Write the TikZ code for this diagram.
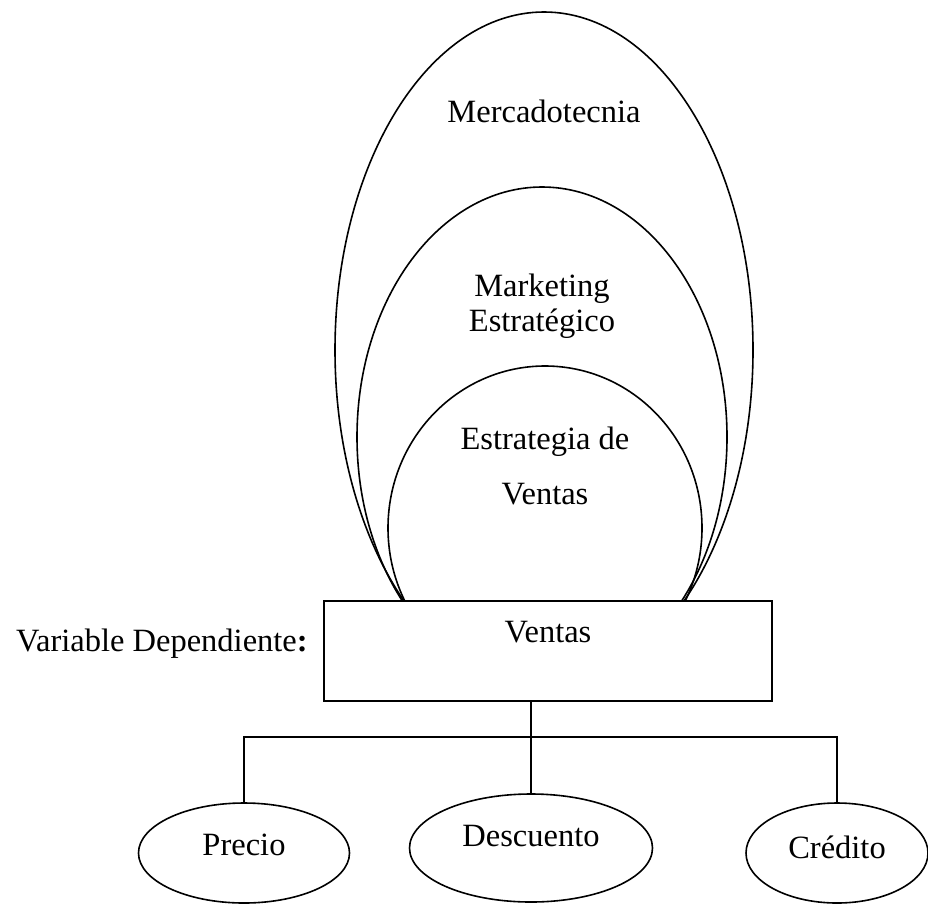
\documentclass[tikz,border=0pt]{standalone}
\usepackage{fontspec}
\setmainfont{Liberation Serif}
\usetikzlibrary{positioning,calc,shapes.geometric}

\begin{document}
\begin{tikzpicture}[x=1pt,y=-1pt,
 ovalo/.style={draw,ellipse,line width=1.6pt,inner sep=0pt},
 cajabox/.style={draw,fill=white,line width=2.2pt,minimum width=448pt,minimum height=100pt,inner sep=0pt},
 hoja/.style={draw,ellipse,line width=1.6pt,inner sep=0pt},
 texto/.style={inner sep=0pt,align=center,font=\fontsize{32.5}{35}\selectfont},
 linea/.style={line width=1.6pt}]
\useasboundingbox (0,0) rectangle (928,905);
% nested ovals, the box hides their lower ends
\node[ovalo,minimum width=418pt,minimum height=676pt] (merca) at (544,350) {};
\node[ovalo,minimum width=370pt,minimum height=500pt] (mkt) at (542,437) {};
\node[ovalo,minimum width=314pt,minimum height=324pt] (estr) at (545,528) {};
\node[texto,below=89pt of merca.north] (mercatxt) {Mercadotecnia};
\node[texto,below=88pt of mkt.north] (mkttxt) {Marketing\\Estratégico};
\node[texto,below=62pt of estr.north] (estrtxt) {Estrategia de\\[20pt]Ventas};
\node[cajabox] (ventas) at (548,651) {};
\node[texto,below=21pt of ventas.north] (ventastxt) {Ventas};
\node[texto,base left=15pt of ventas.west] (vardep) {Variable Dependiente\textbf{:}};
% indicators
\node[hoja,minimum width=211pt,minimum height=100pt] (precio) at (244,853) {};
\node[hoja,minimum width=243pt,minimum height=108pt] (descuento) at (531,848) {};
\node[hoja,minimum width=182pt,minimum height=100pt] (credito) at (837,853) {};
\node[texto] (preciotxt) at ($(precio.center)+(0,-8)$) {Precio};
\node[texto] (descuentotxt) at ($(descuento.center)+(0,-12)$) {Descuento};
\node[texto] (creditotxt) at ($(credito.center)+(0,-6)$) {Crédito};
\coordinate (barra) at (531,737);
\draw[linea] (ventas.south -| descuento.north) -- (descuento.north);
\draw[linea] (precio.north) -- (precio.north |- barra) -- (credito.north |- barra) -- (credito.north);
\end{tikzpicture}
\end{document}
